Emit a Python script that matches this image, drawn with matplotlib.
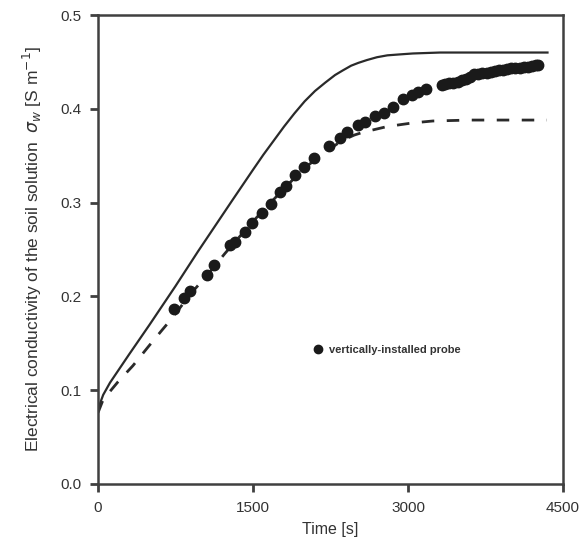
import matplotlib
matplotlib.use("Agg")
import matplotlib.pyplot as plt

plt.rcParams['font.family'] = ['Liberation Sans', 'DejaVu Sans']

# Model curve 1 (solid)
t_solid = [0, 50, 116, 300, 500, 750, 968, 1297, 1500, 1600, 1700, 1800, 1900, 2000, 2100, 2200, 2294,
           2370, 2450, 2520, 2603, 2700, 2800, 2920, 3048, 3310, 3700, 4350]
v_solid = [0.080, 0.095, 0.108, 0.138, 0.170, 0.211, 0.248, 0.302, 0.335, 0.351, 0.366, 0.381, 0.395,
           0.408, 0.419, 0.428, 0.436, 0.441, 0.446, 0.449, 0.452, 0.455, 0.457, 0.458, 0.459, 0.460,
           0.460, 0.460]

# Model curve 2 (dashed)
t_dash = [0, 50, 194, 337, 484, 619, 726, 890, 1052, 1230, 1500, 1800, 2000, 2130, 2240, 2320, 2400,
          2480, 2565, 2680, 2795, 2920, 3048, 3240, 3600, 4345]
v_dash = [0.076, 0.090, 0.109, 0.126, 0.146, 0.164, 0.178, 0.202, 0.222, 0.246, 0.280, 0.315, 0.337,
          0.348, 0.357, 0.363, 0.368, 0.372, 0.375, 0.378, 0.381, 0.383, 0.385, 0.387, 0.388, 0.388]

# Measurements: vertically-installed probe
t_meas = [739, 836, 890, 1052, 1126, 1277, 1326, 1423, 1493, 1584, 1674, 1761, 1819, 1906,
          1994, 2090, 2239, 2342, 2413, 2520, 2584, 2681, 2768, 2858, 2955, 3036, 3100, 3174,
          3326, 3360, 3400, 3440, 3480, 3520, 3560, 3600, 3640, 3680, 3720, 3760, 3800, 3840,
          3880, 3920, 3960, 4000, 4040, 4080, 4120, 4160, 4200, 4240, 4260]
v_meas = [0.187, 0.198, 0.206, 0.223, 0.233, 0.255, 0.258, 0.269, 0.278, 0.289, 0.299, 0.311, 0.318, 0.329,
          0.338, 0.348, 0.360, 0.369, 0.375, 0.383, 0.386, 0.392, 0.395, 0.402, 0.410, 0.415, 0.418, 0.421,
          0.425, 0.426, 0.427, 0.428, 0.429, 0.431, 0.432, 0.434, 0.437, 0.437, 0.438, 0.438, 0.439, 0.440,
          0.441, 0.441, 0.442, 0.443, 0.443, 0.444, 0.445, 0.445, 0.446, 0.447, 0.447]

x_ticks = [0, 1500, 3000, 4500]
y_ticks = [0.0, 0.1, 0.2, 0.3, 0.4, 0.5]

fig = plt.figure(figsize=(5.81, 5.46), dpi=100)
ax = fig.add_axes([0.1687, 0.1136, 0.8003, 0.8589])

dark = '#2a2a2a'
ax.plot(t_solid, v_solid, '-', color=dark, lw=1.6, zorder=2)
ax.plot(t_dash, v_dash, color=dark, lw=2.0, dashes=(4.5, 4.5), zorder=2)
ax.plot(t_meas, v_meas, 'o', color='#1a1a1a', ms=7.5, mec='#1a1a1a', zorder=3,
        label='vertically-installed probe')

ax.set_xlim(0, 4500)
ax.set_ylim(0, 0.5)
ax.set_xticks(x_ticks)
ax.set_yticks(y_ticks)
ax.set_xticklabels([str(x) for x in x_ticks])
ax.set_yticklabels([f"{y:.1f}" for y in y_ticks])

for s in ax.spines.values():
    s.set_color('#404040')
    s.set_linewidth(1.8)
ax.tick_params(direction='out', length=6, width=2, color='#404040', labelsize=11,
               labelcolor='#333333', pad=6)

ax.set_xlabel('Time [s]', fontsize=11.5, color='#333333', labelpad=5)
ax.set_ylabel(r'Electrical conductivity of the soil solution  $\sigma_w$ [S m$^{-1}$]',
              fontsize=12.5, color='#333333', labelpad=12)

leg = ax.legend(loc='center left', bbox_to_anchor=(0.44, 0.286), frameon=False,
                handletextpad=0.5, handlelength=1.0, markerscale=0.8,
                prop={'size': 8, 'weight': 'bold'}, labelcolor='#333333')

fig.savefig('out.png', dpi=100)
